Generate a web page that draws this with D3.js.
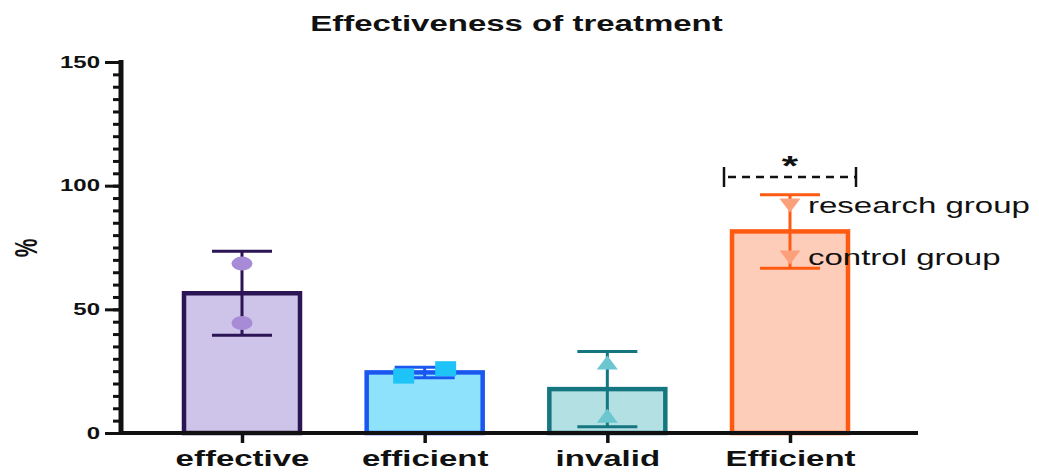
<!DOCTYPE html>
<html>
<head>
<meta charset="utf-8">
<script src="https://cdn.jsdelivr.net/npm/d3@7"></script>
<style>
	body { margin: 0; background: #fff; }
	text { font-family: "Liberation Sans", Arial, sans-serif; fill: #111; }
</style>
</head>
<body>
<div id="graph"></div>
<script>
// Data:
let categories = ["effective", "efficient", "invalid", "Efficient"];
let researchValues = [68.5, 26, 28.5, 92];
let controlValues = [44.5, 23, 7, 71];
let yTicks = [0, 50, 100, 150];
let groupLabels = ["research group", "control group"];
let sigLevel = 103.5;
let sigLabel = "*";

let width = 1039;
let height = 473;

// Original picture is stretched sideways, so all text gets this:
let SX = 1.5;

let barWidth = 116;
let capHalf = 30;

// Per-bar look (order follows categories):
let styles = [
	{ fill: "#cec3e8", stroke: "#2b1555", marker: "#a78bd6", shape: "ellipse", jitter: 0 },
	{ fill: "#8ee2fc", stroke: "#1a56f0", marker: "#1ec3f7", shape: "square", jitter: 21 },
	{ fill: "#b3e0e3", stroke: "#157680", marker: "#6bc6cf", shape: "up", jitter: 0 },
	{ fill: "#fdcdb9", stroke: "#ff5a12", marker: "#fca07c", shape: "down", jitter: 0 }
	];

let data = categories.map((c, i) => {
	let vals = [researchValues[i], controlValues[i]];
	return {
		cat: c,
		research: researchValues[i],
		control: controlValues[i],
		mean: d3.mean(vals),
		sd: d3.deviation(vals),
		style: styles[i]
		};
	});

let svg = d3.select("#graph")
	.append("svg")
		.attr("width", width)
		.attr("height", height)
	;

let yScale = d3.scaleLinear()
	.domain([0, 150])
	.range([433, 62])
	;
let xScale = d3.scalePoint()
	.domain(categories)
	.range([242, 790])
	;
let axisLeftX = 121;
let axisRightX = 918;

// Bars
svg.selectAll("rect.bar")
	.data(data)
	.enter()
		.append("rect")
			.attr("class", "bar")
			.attr("x", d => xScale(d.cat) - barWidth / 2)
			.attr("y", d => yScale(d.mean))
			.attr("width", barWidth)
			.attr("height", d => yScale(0) - yScale(d.mean))
			.attr("fill", d => d.style.fill)
			.attr("stroke", d => d.style.stroke)
			.attr("stroke-width", 4.5)
	;

// Error bars (mean +- SD)
let err = svg.selectAll("g.err")
	.data(data)
	.enter()
		.append("g")
			.attr("class", "err")
			.attr("stroke", d => d.style.stroke)
			.attr("stroke-width", 3)
	;
err.append("line")
	.attr("x1", d => xScale(d.cat))
	.attr("x2", d => xScale(d.cat))
	.attr("y1", d => yScale(d.mean + d.sd))
	.attr("y2", d => yScale(d.mean - d.sd))
	;
err.append("line")
	.attr("x1", d => xScale(d.cat) - capHalf)
	.attr("x2", d => xScale(d.cat) + capHalf)
	.attr("y1", d => yScale(d.mean + d.sd))
	.attr("y2", d => yScale(d.mean + d.sd))
	;
err.append("line")
	.attr("x1", d => xScale(d.cat) - capHalf)
	.attr("x2", d => xScale(d.cat) + capHalf)
	.attr("y1", d => yScale(d.mean - d.sd))
	.attr("y2", d => yScale(d.mean - d.sd))
	;

// Individual points
function markerPath(shape) {
	let w = 21, h = 14;
	if (shape === "square") return `M${-w/2},${-7.5}h${w}v15h${-w}Z`;
	if (shape === "up") return `M0,${-h/2}L${w/2},${h/2}L${-w/2},${h/2}Z`;
	if (shape === "down") return `M${-w/2},${-h/2}L${w/2},${-h/2}L0,${h/2}Z`;
	return `M${-w/2},0a${w/2},${h/2} 0 1,0 ${w},0a${w/2},${h/2} 0 1,0 ${-w},0Z`;
	}
let points = [];
data.forEach(d => {
	points.push({ d: d, v: d.research, dx: d.style.jitter });
	points.push({ d: d, v: d.control, dx: -d.style.jitter });
	});
svg.selectAll("path.pt")
	.data(points)
	.enter()
		.append("path")
			.attr("class", "pt")
			.attr("d", p => markerPath(p.d.style.shape))
			.attr("transform", p => `translate(${xScale(p.d.cat) + p.dx},${yScale(p.v)})`)
			.attr("fill", p => p.d.style.marker)
	;

// Group labels next to last bar's points
let last = data[data.length - 1];
svg.selectAll("text.grp")
	.data([last.research, last.control])
	.enter()
		.append("text")
			.attr("class", "grp")
			.attr("transform", (v) =>
				`translate(${xScale(last.cat) + 18},${yScale(v) + 8}) scale(${SX},1)`)
			.style("font-size", "22px")
			.text((v, i) => groupLabels[i])
	;

// Significance bracket
let sigY = yScale(sigLevel);
let sx0 = xScale(last.cat) - 66;
let sx1 = xScale(last.cat) + 66;
let sig = svg.append("g")
	.attr("stroke", "#111")
	.attr("stroke-width", 2.5)
	;
sig.append("line")
	.attr("x1", sx0).attr("x2", sx1)
	.attr("y1", sigY).attr("y2", sigY)
	.attr("stroke-dasharray", "8,6")
	.attr("stroke-dashoffset", -4)
	;
[sx0, sx1].forEach(xx => {
	sig.append("line")
		.attr("x1", xx).attr("x2", xx)
		.attr("y1", sigY - 10).attr("y2", sigY + 10)
		;
	});
svg.append("text")
	.attr("transform", `translate(${xScale(last.cat)},${sigY - 2}) scale(${SX},1)`)
	.attr("text-anchor", "middle")
	.style("font-size", "28px")
	.style("font-weight", "bold")
	.text(sigLabel)
	;

// Y axis: minor ticks every 5
svg.append("g")
	.attr("transform", `translate(${axisLeftX},0)`)
	.call(d3.axisLeft(yScale)
		.tickValues(d3.range(0, 151, 5))
		.tickSize(8)
		.tickSizeOuter(0)
		.tickFormat(""))
	.call(g => g.select(".domain").remove())
	.call(g => g.selectAll("line").attr("stroke", "#111").attr("stroke-width", 3))
	;
// Major ticks and labels
let yAxisG = svg.append("g")
	.attr("transform", `translate(${axisLeftX},0)`)
	.call(d3.axisLeft(yScale)
		.tickValues(yTicks)
		.tickSize(16)
		.tickSizeOuter(0))
	;
yAxisG.select(".domain").remove();
yAxisG.selectAll("line").attr("stroke", "#111").attr("stroke-width", 3);
yAxisG.selectAll("text")
	.attr("x", -21 / SX)
	.attr("transform", `scale(${SX},1)`)
	.style("font-size", "16px")
	.style("font-weight", "bold")
	.attr("fill", "#111")
	;
svg.append("line")
	.attr("x1", axisLeftX).attr("x2", axisLeftX)
	.attr("y1", yScale(0) + 2).attr("y2", yScale(150) - 2)
	.attr("stroke", "#111")
	.attr("stroke-width", 5)
	;

// X axis
let xAxisG = svg.append("g")
	.attr("transform", `translate(0,${yScale(0)})`)
	.call(d3.axisBottom(xScale).tickSize(10).tickSizeOuter(0))
	;
xAxisG.select(".domain").remove();
xAxisG.selectAll("line").attr("stroke", "#111").attr("stroke-width", 3.5);
xAxisG.selectAll("text")
	.attr("y", 33)
	.attr("dy", 0)
	.attr("transform", `scale(${SX},1)`)
	.style("font-size", "22px")
	.style("font-weight", "bold")
	.attr("fill", "#111")
	;
svg.append("line")
	.attr("x1", axisLeftX).attr("x2", axisRightX)
	.attr("y1", yScale(0)).attr("y2", yScale(0))
	.attr("stroke", "#111")
	.attr("stroke-width", 4)
	;

// Title and y label
svg.append("text")
	.attr("transform", `translate(516.5,31) scale(${SX},1)`)
	.attr("text-anchor", "middle")
	.style("font-size", "22px")
	.style("font-weight", "bold")
	.text("Effectiveness of treatment")
	;
svg.append("text")
	.attr("transform", `translate(37,248) scale(${SX},1) rotate(-90)`)
	.attr("text-anchor", "middle")
	.style("font-size", "21px")
	.style("font-weight", "bold")
	.text("%")
	;
</script>
</body>
</html>
